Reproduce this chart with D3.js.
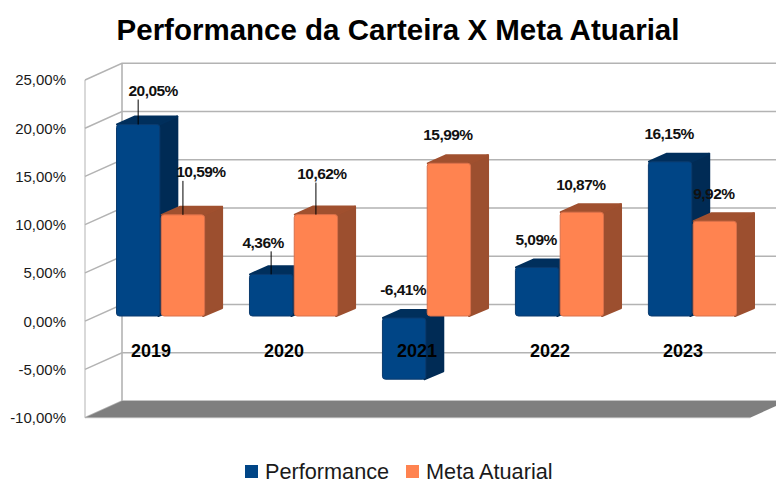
<!DOCTYPE html>
<html>
<head>
<meta charset="utf-8">
<script src="https://cdn.jsdelivr.net/npm/d3@7"></script>
<style>
  html, body { margin: 0; padding: 0; background: #fff; overflow: hidden; }
  svg { display: block; font-family: "Liberation Sans", Arial, sans-serif; }
</style>
</head>
<body>
<svg id="svg1" width="776" height="479"></svg>
<script>
var years = ["2019", "2020", "2021", "2022", "2023"];
var seriesNames = ["Performance", "Meta Atuarial"];
var performance = [20.05, 4.36, -6.41, 5.09, 16.15];
var metaAtuarial = [10.59, 10.62, 15.99, 10.87, 9.92];
var yTicks = [-10, -5, 0, 5, 10, 15, 20, 25];

// label placement, [dx from bar centre, middle of text above bar top, has leader line]
var perfLabelPos = [[15, 34, 1], [-8, 32, 1], [-1, 29, 0], [-1, 28, 0], [-1, 28, 0]];
var metaLabelPos = [[18, 43, 1], [6, 41, 1], [-1, 29, 0], [-1, 28, 0], [-1, 28, 0]];

var faceColors = ["#004586", "#ff8350"];
var edgeColors = ["#0b3b6e", "#d9704a"];
var sideColors = ["#002b55", "#9c4f2f"];
var topColors = ["#002f5c", "#a0502f"];

var svg = d3.select("#svg1");
var comma = d3.formatLocale({ decimal: ",", thousands: ".", grouping: [3], currency: ["", ""], minus: "-" });
var pct = function (v) { return comma.format(".2f")(v) + "%"; };

var depthX = 37, depthY = 16.7;
var wallLeft = 85;
var wallRight = 750;
var yFront = d3.scaleLinear().domain([-10, 25]).range([417.7, 80]);
var yBack = function (v) { return yFront(v) - depthY; };

// back wall and side wall
yTicks.forEach(function (t) {
    svg.append("polyline")
        .attr("points", [[wallLeft, yFront(t)], [wallLeft + depthX, yBack(t)], [wallRight + depthX, yBack(t)]].join(" "))
        .attr("fill", "none")
        .attr("stroke", "#b3b3b3")
        .attr("stroke-width", 1.4);
});
svg.append("line").attr("x1", wallLeft).attr("x2", wallLeft)
    .attr("y1", yFront(25)).attr("y2", yFront(-10))
    .attr("stroke", "#b3b3b3").attr("stroke-width", 1);
svg.append("line").attr("x1", wallLeft + depthX).attr("x2", wallLeft + depthX)
    .attr("y1", yBack(25)).attr("y2", yBack(-10))
    .attr("stroke", "#b3b3b3").attr("stroke-width", 1.6);

// floor
svg.append("polygon")
    .attr("points", [[wallLeft, yFront(-10)], [wallLeft + depthX, yBack(-10)], [wallRight + depthX, yBack(-10)], [wallRight, yFront(-10)]].join(" "))
    .attr("fill", "#7f7f7f");
svg.append("line").attr("x1", wallLeft).attr("x2", wallRight)
    .attr("y1", yFront(-10)).attr("y2", yFront(-10))
    .attr("stroke", "#b3b3b3").attr("stroke-width", 1);

// y axis
var axis = d3.axisLeft(yFront).tickValues(yTicks).tickFormat(pct).tickSize(0).tickPadding(0);
var axisG = svg.append("g").attr("transform", "translate(66,0)").call(axis);
axisG.select(".domain").remove();
axisG.selectAll("text")
    .attr("font-family", "Liberation Sans")
    .attr("font-size", 15)
    .attr("fill", "#1a1a1a");

// bars
var x0 = d3.scaleBand().domain(years).range([116, 737]).paddingInner(0.33).paddingOuter(0).align(0);
var x1 = d3.scaleBand().domain(seriesNames).range([0, x0.bandwidth()]).paddingInner(0.01);
var barY = d3.scaleLinear().domain([0, 20]).range([316, 125]);
var sideX = 18, sideY = 8;

var createBar = function (year, s, v) {
    var xa = x0(year) + x1(seriesNames[s]);
    var w = x1.bandwidth();
    var top = v >= 0 ? barY(v) : barY(0) + 2;
    var bottom = v >= 0 ? barY(0) : barY(v) + 2;
    var g = svg.append("g");
    g.append("polygon")
        .attr("points", [[xa + w - 2, top], [xa + w + sideX - 1, top - sideY], [xa + w + sideX - 1, bottom - sideY], [xa + w - 2, bottom]].join(" "))
        .attr("fill", sideColors[s])
        .attr("stroke", sideColors[s])
        .attr("stroke-width", 2)
        .attr("stroke-linejoin", "round");
    g.append("polygon")
        .attr("points", [[xa + 1, top], [xa + sideX + 1, top - sideY], [xa + w + sideX - 1, top - sideY], [xa + w - 1, top]].join(" "))
        .attr("fill", topColors[s])
        .attr("stroke", topColors[s])
        .attr("stroke-width", 2)
        .attr("stroke-linejoin", "round");
    g.append("rect")
        .attr("x", xa + 0.5).attr("y", top)
        .attr("width", w - 1).attr("height", bottom - top)
        .attr("rx", 3)
        .attr("fill", faceColors[s])
        .attr("stroke", edgeColors[s])
        .attr("stroke-width", 1);
};

years.forEach(function (year, i) {
    createBar(year, 0, performance[i]);
    createBar(year, 1, metaAtuarial[i]);
});

// category labels
svg.append("g").selectAll("text").data(years).join("text")
    .attr("x", function (d) { return x0(d) + x0.bandwidth() / 2 - 9.5; })
    .attr("y", 357)
    .attr("text-anchor", "middle")
    .attr("font-size", 18)
    .attr("font-weight", "bold")
    .attr("fill", "#000")
    .text(function (d) { return d; });

// data labels
var createLabel = function (year, s, v, pos) {
    var cx = x0(year) + x1(seriesNames[s]) + x1.bandwidth() / 2;
    var top = v >= 0 ? barY(v) : barY(0) + 2;
    var midY = top - pos[1];
    if (pos[2]) {
        svg.append("line").attr("x1", cx).attr("x2", cx)
            .attr("y1", midY + 9).attr("y2", top)
            .attr("stroke", "#000").attr("stroke-width", 1);
    }
    svg.append("text")
        .attr("x", cx + pos[0]).attr("y", midY + 5.5)
        .attr("text-anchor", "middle")
        .attr("font-size", 15.5)
        .attr("font-weight", "bold")
        .attr("letter-spacing", "-0.55")
        .attr("fill", "#111")
        .text(pct(v));
};

years.forEach(function (year, i) {
    createLabel(year, 0, performance[i], perfLabelPos[i]);
    createLabel(year, 1, metaAtuarial[i], metaLabelPos[i]);
});

// title
svg.append("text")
    .attr("x", 398).attr("y", 40)
    .attr("text-anchor", "middle")
    .attr("font-size", 29.5)
    .attr("font-weight", "bold")
    .attr("fill", "#000")
    .text("Performance da Carteira X Meta Atuarial");

// legend
var legendX = d3.scaleOrdinal().domain(seriesNames).range([245, 406]);
seriesNames.forEach(function (name, s) {
    svg.append("rect")
        .attr("x", legendX(name)).attr("y", 465)
        .attr("width", 13).attr("height", 13)
        .attr("fill", faceColors[s]);
    svg.append("text")
        .attr("x", legendX(name) + 20).attr("y", 479)
        .attr("font-size", 21.7)
        .attr("fill", "#1a1a1a")
        .text(name);
});
</script>
</body>
</html>
